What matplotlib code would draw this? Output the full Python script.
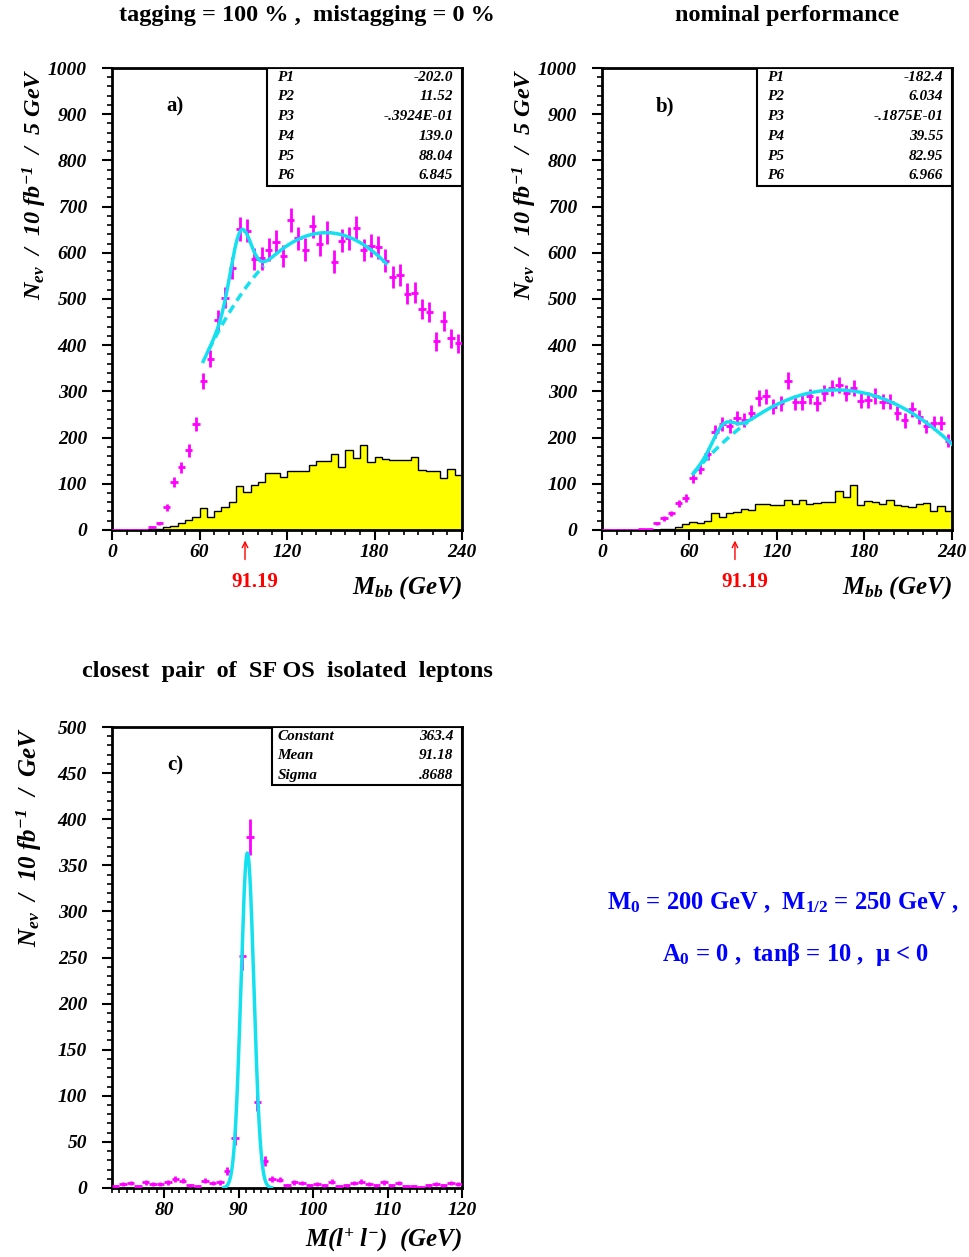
import numpy as np
import matplotlib
matplotlib.use('Agg')
import matplotlib.pyplot as plt
from matplotlib.patches import Rectangle
from matplotlib.ticker import MultipleLocator

plt.rcParams['font.family'] = 'Liberation Serif'
plt.rcParams['font.weight'] = 'bold'
plt.rcParams['font.style'] = 'italic'
plt.rcParams['mathtext.fontset'] = 'custom'
plt.rcParams['mathtext.it'] = 'Liberation Serif:italic:bold'
plt.rcParams['mathtext.rm'] = 'Liberation Serif:italic:bold'
plt.rcParams['mathtext.bf'] = 'Liberation Serif:roman:bold'

# M_bb histograms, 5 GeV bins from 0 to 240
mbb_edges = np.arange(0, 245, 5)
data_a = [0, 0, 0, 0, 0, 6, 14, 49, 104, 136, 172, 229, 322, 371, 455, 503,
          568, 651, 648, 586, 588, 607, 624, 593, 670, 631, 607, 657, 618, 644,
          581, 626, 631, 654, 606, 615, 612, 583, 547, 552, 511, 514, 478, 472,
          408, 453, 415, 404]
bkg_a = [0, 0, 0, 0, 0, 1, 3, 6, 9, 16, 22, 27, 47, 27, 40, 50, 61, 95, 82, 98,
         103, 123, 123, 114, 128, 128, 128, 141, 150, 149, 164, 137, 173, 155,
         184, 148, 157, 154, 152, 151, 151, 157, 130, 128, 128, 112, 131, 118]
data_b = [0, 0, 0, 0, 0, 1, 1, 14, 25, 36, 58, 69, 112, 133, 164, 213, 229, 225,
          242, 238, 254, 285, 289, 267, 274, 323, 276, 276, 289, 274, 296, 307,
          314, 296, 307, 280, 281, 290, 278, 278, 253, 237, 261, 245, 224, 232,
          232, 193]
bkg_b = [0, 0, 0, 0, 0, 0, 0, 0, 2, 3, 7, 12, 17, 15, 20, 36, 27, 36, 38, 46, 43,
         56, 56, 54, 54, 65, 56, 65, 56, 59, 61, 60, 85, 72, 97, 53, 63, 60, 56,
         65, 53, 51, 49, 56, 58, 40, 52, 42]

# fit parameters: pol2 + gaus
pars_a = [-202.0, 11.52, -0.03924, 139.0, 88.04, 6.845]
pars_b = [-182.4, 6.034, -0.01875, 39.55, 82.95, 6.966]
pars_a_txt = ['-202.0', '11.52', '-.3924E-01', '139.0', '88.04', '6.845']
pars_b_txt = ['-182.4', '6.034', '-.1875E-01', '39.55', '82.95', '6.966']
fit_range_a = (65, 188)
fit_range_b = (62.5, 240)
bg_range_a = (62, 104)
bg_range_b = (62.5, 100)

# M(l+l-) histogram, 1 GeV bins from 73 to 120
mll_edges = np.arange(73, 121, 1)
data_c = [2, 4, 5, 2, 6, 4, 4, 6, 10, 8, 3, 2, 8, 5, 6, 18, 54, 252, 381, 93,
          29, 10, 9, 3, 6, 5, 3, 4, 3, 7, 2, 3, 5, 7, 4, 3, 6, 3, 5, 2, 2, 1,
          3, 4, 3, 5, 4]
pars_c = [363.4, 91.18, 0.8688]
pars_c_names = ['Constant', 'Mean', 'Sigma']
pars_c_txt = ['363.4', '91.18', '.8688']
fit_range_c = (88, 94.4)

mz = 91.19
magenta = '#ff00ff'
cyan = '#14e1f0'


def pol2(x, p):
    return p[0] + p[1] * x + p[2] * x ** 2


def pol2_gaus(x, p):
    return pol2(x, p) + p[3] * np.exp(-0.5 * ((x - p[4]) / p[5]) ** 2)


def style_axes(ax):
    for s in ax.spines.values():
        s.set_linewidth(2)
    ax.tick_params(which='both', direction='out', top=False, right=False,
                   labelsize=14)
    ax.tick_params(which='major', length=7, width=1.5)
    ax.tick_params(which='minor', length=3.5, width=1.2)
    ax.tick_params(axis='y', pad=11)
    ax.tick_params(axis='x', pad=3)


fig = plt.figure(figsize=(9.7, 12.57), dpi=100)

ax_a = fig.add_axes([0.1155, 0.5784, 0.3608, 0.3675])
ax_b = fig.add_axes([0.6206, 0.5784, 0.3608, 0.3675])
ax_c = fig.add_axes([0.1155, 0.0549, 0.3608, 0.3667])

for ax, data, bkg, pars, ptxt, frange, brange, lab in [
        (ax_a, data_a, bkg_a, pars_a, pars_a_txt, fit_range_a, bg_range_a, 'a)'),
        (ax_b, data_b, bkg_b, pars_b, pars_b_txt, fit_range_b, bg_range_b, 'b)')]:
    centers = 0.5 * (mbb_edges[1:] + mbb_edges[:-1])
    ax.stairs(bkg, mbb_edges, fill=True, facecolor='#ffff00', zorder=1)
    ax.stairs(bkg, mbb_edges, color='black', lw=1, zorder=2)
    ax.errorbar(centers, data, yerr=np.sqrt(data), xerr=2.5, fmt='none',
                ecolor=magenta, elinewidth=2, capsize=0, zorder=3)
    xb = np.linspace(brange[0], brange[1], 100)
    ax.plot(xb, pol2(xb, pars), color=cyan, lw=2.5, ls=(0, (2.5, 1.6)), zorder=4)
    xf = np.linspace(frange[0], frange[1], 400)
    ax.plot(xf, pol2_gaus(xf, pars), color=cyan, lw=2.5, zorder=4)
    ax.set_xlim(0, 240)
    ax.set_ylim(0, 1000)
    ax.xaxis.set_major_locator(MultipleLocator(60))
    ax.xaxis.set_minor_locator(MultipleLocator(10))
    ax.yaxis.set_major_locator(MultipleLocator(100))
    ax.yaxis.set_minor_locator(MultipleLocator(20))
    style_axes(ax)

    # stat box
    ax.add_patch(Rectangle((0.443, 0.745), 0.557, 0.255, transform=ax.transAxes,
                           facecolor='white', edgecolor='black', lw=1.5, zorder=5))
    for i, t in enumerate(ptxt):
        yy = (530 - (77 + 19.8 * i)) / 462
        ax.text(0.472, yy, 'P%d' % (i + 1), transform=ax.transAxes, fontsize=11,
                va='center', ha='left', zorder=6)
        ax.text(0.975, yy, t, transform=ax.transAxes, fontsize=11,
                va='center', ha='right', zorder=6)

    ax.text(0.18, 0.916, lab, transform=ax.transAxes, fontsize=15,
            style='normal', ha='center', va='center')

    ax.annotate('', xy=(mz, -0.017), xytext=(mz, -0.07),
                xycoords=('data', 'axes fraction'),
                arrowprops=dict(arrowstyle='->', color='red', lw=1))
    ax.text(mz + 7, -0.113, '91.19', transform=ax.get_xaxis_transform(),
            color='red', fontsize=15, style='normal', ha='center', va='center')
    ax.text(1.0, -0.125, r'$M_{bb}$ (GeV)', transform=ax.transAxes,
            fontsize=18, ha='right', va='center')
    ax.text(-0.22, 1.0, r'$N_{ev}$  /  10 fb$^{-1}$  /  5 GeV',
            transform=ax.transAxes, fontsize=17.5, rotation=90,
            ha='center', va='top')

# panel c
centers_c = 0.5 * (mll_edges[1:] + mll_edges[:-1])
ax_c.errorbar(centers_c, data_c, yerr=np.sqrt(data_c), xerr=0.5, fmt='none',
              ecolor=magenta, elinewidth=2, capsize=0, zorder=3)
xg = np.linspace(fit_range_c[0], fit_range_c[1], 400)
ax_c.plot(xg, pars_c[0] * np.exp(-0.5 * ((xg - pars_c[1]) / pars_c[2]) ** 2),
          color=cyan, lw=2.5, zorder=4)
ax_c.set_xlim(73, 120)
ax_c.set_ylim(0, 500)
ax_c.xaxis.set_major_locator(MultipleLocator(10))
ax_c.xaxis.set_minor_locator(MultipleLocator(1))
ax_c.yaxis.set_major_locator(MultipleLocator(50))
ax_c.yaxis.set_minor_locator(MultipleLocator(10))
style_axes(ax_c)
ax_c.add_patch(Rectangle((0.457, 0.874), 0.543, 0.126, transform=ax_c.transAxes,
                         facecolor='white', edgecolor='black', lw=1.5, zorder=5))
for i, (n, t) in enumerate(zip(pars_c_names, pars_c_txt)):
    yy = (1188 - (736 + 19.5 * i)) / 461
    ax_c.text(0.472, yy, n, transform=ax_c.transAxes, fontsize=11,
              va='center', ha='left', zorder=6)
    ax_c.text(0.975, yy, t, transform=ax_c.transAxes, fontsize=11,
              va='center', ha='right', zorder=6)
ax_c.text(0.18, 0.916, 'c)', transform=ax_c.transAxes, fontsize=15,
          style='normal', ha='center', va='center')
ax_c.text(1.0, -0.113, r'M(l$^{+}$ l$^{-}$)  (GeV)', transform=ax_c.transAxes,
          fontsize=18, ha='right', va='center')
ax_c.text(-0.235, 1.0, r'$N_{ev}$  /  10 fb$^{-1}$  /  GeV',
          transform=ax_c.transAxes, fontsize=18, rotation=90,
          ha='center', va='top')

# titles
fig.text(307 / 970, 1 - 15 / 1257, 'tagging = 100 % ,  mistagging = 0 %',
         fontsize=17.5, style='normal', ha='center', va='center')
fig.text(787 / 970, 1 - 15 / 1257, 'nominal performance',
         fontsize=17.5, style='normal', ha='center', va='center')
fig.text(287 / 970, 1 - 672 / 1257,
         'closest  pair  of  SF OS  isolated  leptons',
         fontsize=17.5, style='normal', ha='center', va='center')

fig.text(783 / 970, 1 - 903 / 1257,
         r'M$_{\mathbf{0}}$ = 200 GeV ,  M$_{\mathbf{1/2}}$ = 250 GeV ,',
         fontsize=17.7, style='normal', color='#0000ff', ha='center', va='center')
fig.text(795 / 970, 1 - 955 / 1257,
         'A$_{\\mathbf{0}}$ = 0 ,  tan\u03b2 = 10 ,  \u03bc < 0',
         fontsize=17.7, style='normal', color='#0000ff', ha='center', va='center')

fig.savefig('out.png', dpi=100)
